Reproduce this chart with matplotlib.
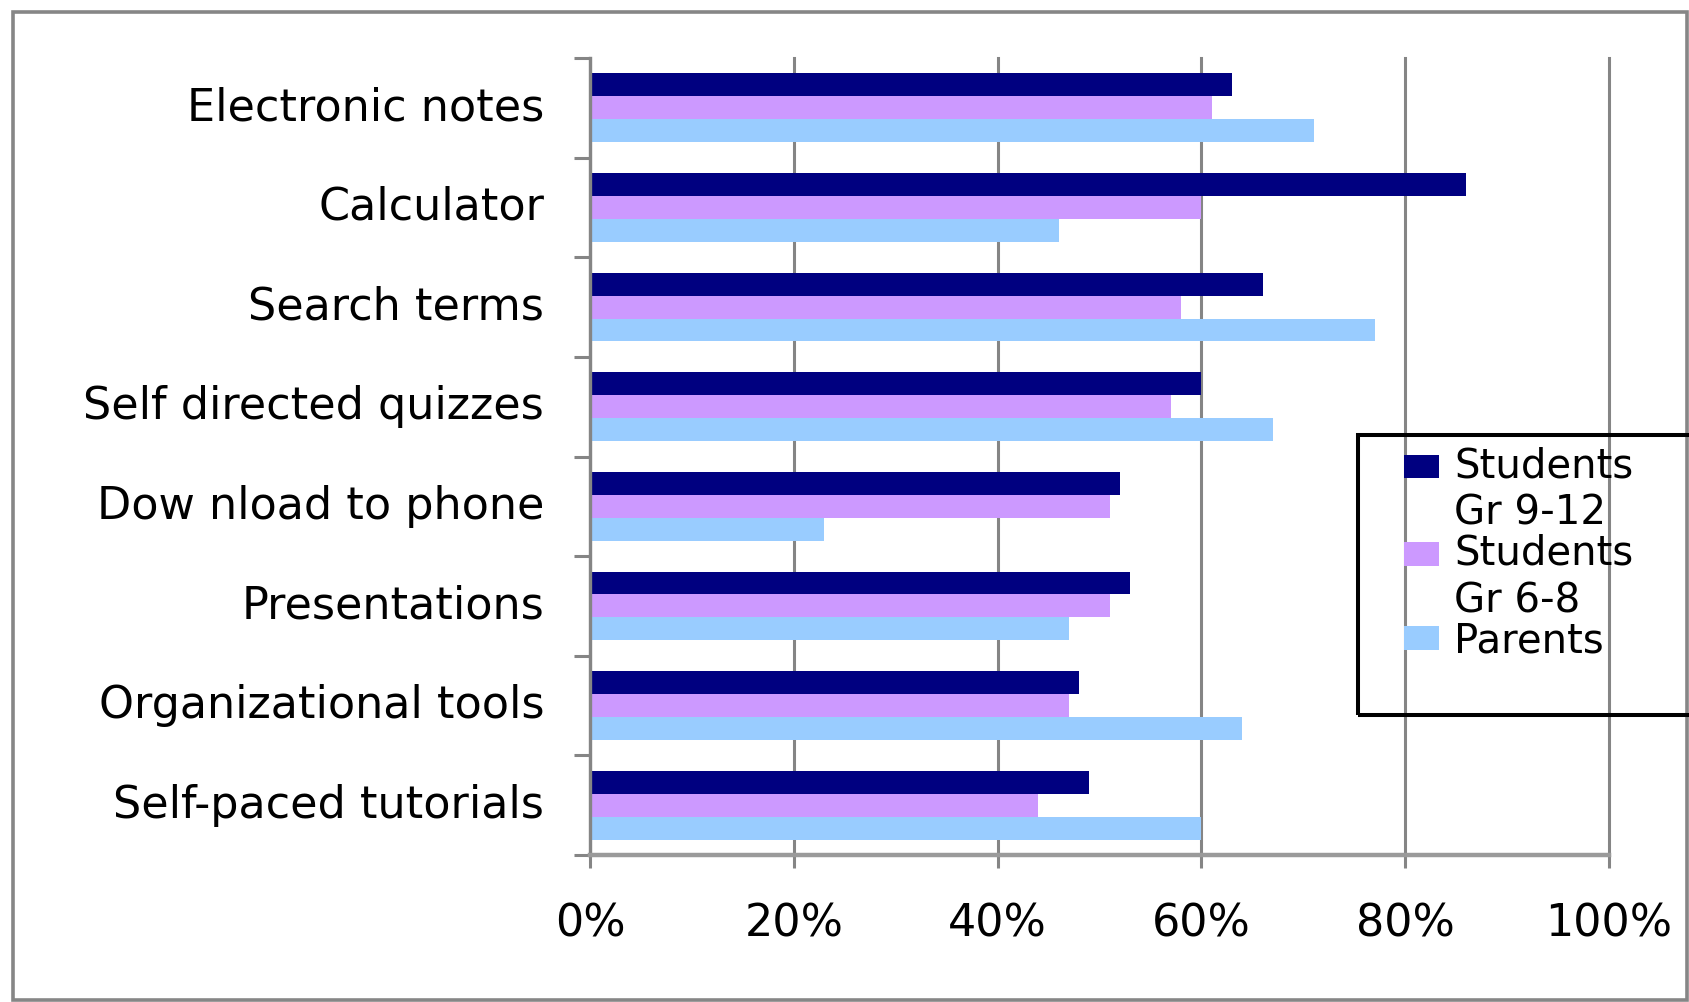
import matplotlib.pyplot as plt
import numpy as np
from matplotlib.patches import Rectangle
from matplotlib.container import BarContainer
from matplotlib.legend_handler import HandlerPatch, update_from_first_child

plt.rcParams['font.family'] = ['DejaVu Sans']

uses = [
    'Electronic notes',
    'Calculator',
    'Search terms',
    'Self directed quizzes',
    'Dow nload to phone',
    'Presentations',
    'Organizational tools',
    'Self-paced tutorials',
]

students_9_12 = [0.63, 0.86, 0.66, 0.60, 0.52, 0.53, 0.48, 0.49]
students_6_8 = [0.61, 0.60, 0.58, 0.57, 0.51, 0.51, 0.47, 0.44]
parents = [0.71, 0.46, 0.77, 0.67, 0.23, 0.47, 0.64, 0.60]

series_labels = ['Students\nGr 9-12', 'Students\nGr 6-8', 'Parents']
series_colors = ['#000080', '#CC99FF', '#99CCFF']

grid_gray = '#858585'
legend_size = 29
legend_linespacing = 1.24

fig = plt.figure(figsize=(16.9, 10.02), dpi=100)
ax = fig.add_axes([0.3491, 0.1467, 0.6030, 0.7954])

y = np.arange(len(uses))
h = 0.23
for k, (vals, lab, col) in enumerate(zip([students_9_12, students_6_8, parents],
                                         series_labels, series_colors)):
    ax.barh(y + (k - 1) * h, vals, height=h, color=col, label=lab, linewidth=0)

ax.set_xlim(0, 1)
ax.set_ylim(len(uses) - 0.5, -0.5)
ax.set_axisbelow(True)

# category labels centred on the group, ticks on the boundaries
ax.set_yticks(np.arange(len(uses) + 1) - 0.5)
ax.set_yticklabels([])
ax.set_yticks(y, minor=True)
ax.set_yticklabels(uses, minor=True, fontsize=32, va='center')
ax.tick_params(axis='y', which='major', length=11.5, width=2.2, color=grid_gray)
ax.tick_params(axis='y', which='minor', length=0, pad=33)

ax.set_xticks(np.linspace(0, 1, 6))
ax.set_xticklabels([f'{int(v * 100)}%' for v in np.linspace(0, 1, 6)], fontsize=32)
ax.tick_params(axis='x', length=9.4, width=2.2, color=grid_gray, pad=25)
ax.grid(axis='x', color=grid_gray, linewidth=2.2)
for line in ax.get_xgridlines():
    line.set_clip_on(False)

for side in ['top', 'right']:
    ax.spines[side].set_visible(False)
ax.spines['left'].set_color(grid_gray)
ax.spines['left'].set_linewidth(2.4)
ax.spines['bottom'].set_color('#9a9a9a')
ax.spines['bottom'].set_linewidth(3.2)


def first_line_patch(legend, orig_handle, xdescent, ydescent, width, height, fontsize):
    # keep the swatch level with the first line of a wrapped label
    extra = orig_handle.get_label().count('\n')
    lift = 0.5 * extra * (legend_linespacing * 0.82 + 0.208) * fontsize
    return Rectangle((-xdescent, -ydescent + lift), width, height)


leg = ax.legend(loc='upper left', bbox_to_anchor=(0.8308, 0.5545),
                bbox_transform=fig.transFigure, frameon=False,
                fontsize=legend_size, borderpad=0, borderaxespad=0,
                labelspacing=0.0, handlelength=0.86, handleheight=0.51,
                handletextpad=0.38,
                handler_map={BarContainer: HandlerPatch(patch_func=first_line_patch,
                                                        update_func=update_from_first_child)})
for t in leg.get_texts():
    t.set_linespacing(legend_linespacing)

# legend box and outer chart border
fig.patches.append(Rectangle((0.8036, 0.2864), 0.2024, 0.2794, transform=fig.transFigure,
                             fill=False, edgecolor='black', linewidth=2.9, zorder=5))
fig.patches.append(Rectangle((0.0077, 0.002), 0.9903, 0.986, transform=fig.transFigure,
                             fill=False, edgecolor='#868686', linewidth=2.6))

fig.savefig('out.png', dpi=100)
